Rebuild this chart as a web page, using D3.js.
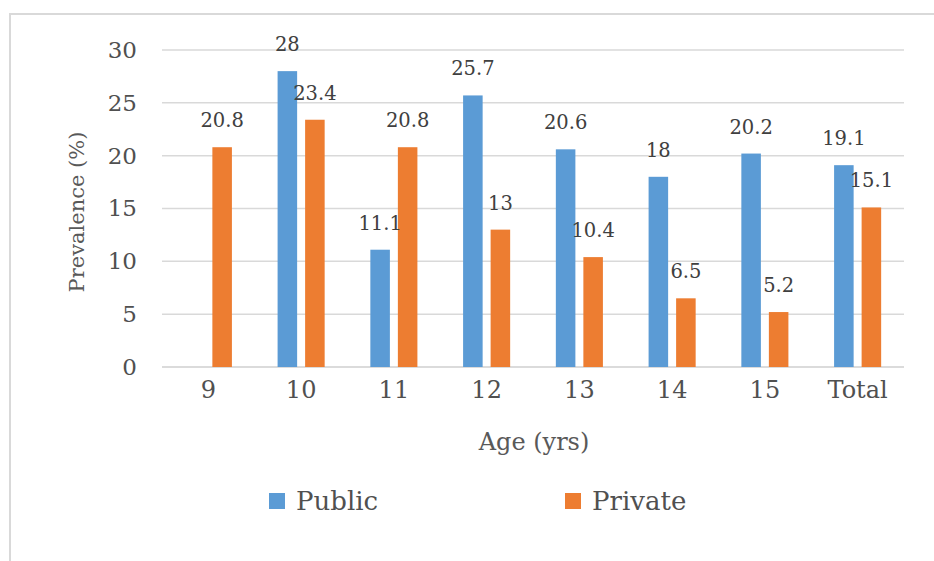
<!DOCTYPE html>
<html>
<head>
<meta charset="utf-8">
<script src="https://cdn.jsdelivr.net/npm/d3@7"></script>
<style>
  body { margin: 0; background: #fff; }
  svg { display: block; }
  text { font-family: "DejaVu Serif", serif; }
</style>
</head>
<body>
<svg></svg>
<script>
var categories = ['9', '10', '11', '12', '13', '14', '15', 'Total']
var publicValues = [null, 28, 11.1, 25.7, 20.6, 18, 20.2, 19.1]
var privateValues = [20.8, 23.4, 20.8, 13, 10.4, 6.5, 5.2, 15.1]
var yTicks = [0, 5, 10, 15, 20, 25, 30]
var seriesNames = ['Public', 'Private']
var seriesColors = ['#5B9BD5', '#ED7D31']

var width = 934
var height = 561

var svg = d3.select('svg').attr('width', width).attr('height', height)

// frame (top and left edges only are visible in the picture)
svg.append('line').attr('x1', 9).attr('x2', width).attr('y1', 14).attr('y2', 14)
  .attr('stroke', '#d9d9d9').attr('stroke-width', 2)
svg.append('line').attr('x1', 10).attr('x2', 10).attr('y1', 14).attr('y2', height)
  .attr('stroke', '#d9d9d9').attr('stroke-width', 2)

var rows = categories.map(function (c, i) {
  return { cat: c, values: [publicValues[i], privateValues[i]] }
})

var x0 = d3.scaleBand().domain(categories).range([162, 904]).padding(0)
var x1 = d3.scaleBand().domain([0, 1]).range([0, x0.bandwidth()])
  .paddingInner(0.29).paddingOuter(0.83)
var y = d3.scaleLinear().domain([0, 30]).range([367, 50])

// gridlines
svg.append('g')
  .selectAll('line')
  .data(yTicks)
  .enter().append('line')
    .attr('x1', 162).attr('x2', 904)
    .attr('y1', function (d) { return y(d) })
    .attr('y2', function (d) { return y(d) })
    .attr('stroke', function (d) { return d === 0 ? '#cfcfcf' : '#d9d9d9' })
    .attr('stroke-width', 1.5)

// y axis labels
var yAxis = svg.append('g')
  .attr('transform', 'translate(146,0)')
  .call(d3.axisLeft(y).tickValues(yTicks).tickSize(0).tickPadding(9))
yAxis.select('.domain').remove()
yAxis.selectAll('text')
  .attr('font-family', 'DejaVu Serif')
  .attr('font-size', 23)
  .attr('fill', '#505050')

// x axis labels
var xAxis = svg.append('g')
  .attr('transform', 'translate(0,367)')
  .call(d3.axisBottom(x0).tickSize(0).tickPadding(14))
xAxis.select('.domain').remove()
xAxis.selectAll('text')
  .attr('font-family', 'DejaVu Serif')
  .attr('font-size', 24)
  .attr('fill', '#505050')

// bars
var groups = svg.append('g')
  .selectAll('g')
  .data(rows)
  .enter().append('g')
    .attr('transform', function (d) { return 'translate(' + x0(d.cat) + ',0)' })

function barData(d) {
  return d.values.map(function (v, k) { return { k: k, v: v } })
    .filter(function (e) { return e.v !== null })
}

groups.selectAll('rect')
  .data(barData)
  .enter().append('rect')
    .attr('x', function (d) { return x1(d.k) })
    .attr('width', x1.bandwidth())
    .attr('y', function (d) { return y(d.v) })
    .attr('height', function (d) { return y(0) - y(d.v) })
    .attr('fill', function (d) { return seriesColors[d.k] })

// value labels
groups.selectAll('text.val')
  .data(barData)
  .enter().append('text')
    .attr('class', 'val')
    .attr('x', function (d) { return x1(d.k) + x1.bandwidth() / 2 })
    .attr('y', function (d) { return y(d.v) - 20 })
    .attr('text-anchor', 'middle')
    .attr('font-size', 19.5)
    .attr('fill', '#404040')
    .text(function (d) { return d.v })

// axis titles
svg.append('text')
  .attr('transform', 'translate(84,212) rotate(-90)')
  .attr('text-anchor', 'middle')
  .attr('font-size', 21)
  .attr('fill', '#595959')
  .text('Prevalence (%)')

svg.append('text')
  .attr('x', 534)
  .attr('y', 450)
  .attr('text-anchor', 'middle')
  .attr('font-size', 24)
  .attr('fill', '#595959')
  .text('Age (yrs)')

// legend
var legendX = [269, 565]
var legend = svg.append('g')
  .selectAll('g')
  .data(seriesNames)
  .enter().append('g')
    .attr('transform', function (d, i) { return 'translate(' + legendX[i] + ',493)' })
legend.append('rect')
  .attr('width', 16).attr('height', 16)
  .attr('fill', function (d, i) { return seriesColors[i] })
legend.append('text')
  .attr('x', 27).attr('y', 17)
  .attr('font-size', 26)
  .attr('fill', '#505050')
  .text(function (d) { return d })
</script>
</body>
</html>
